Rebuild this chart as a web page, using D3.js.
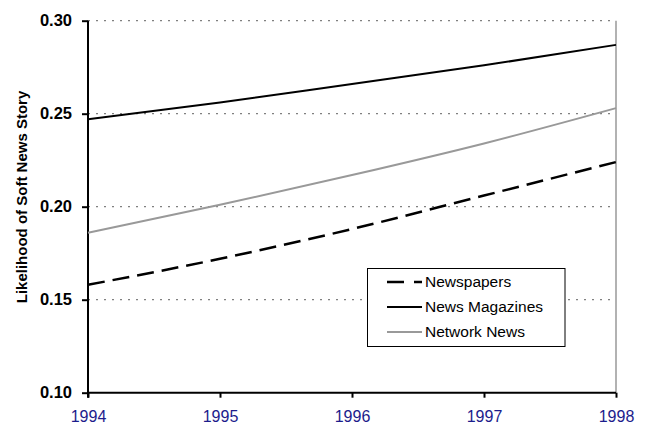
<!DOCTYPE html>
<html><head><meta charset="utf-8">
<script src="https://cdn.jsdelivr.net/npm/d3@7"></script>
<style>body{margin:0;background:#fff}svg{display:block}</style>
</head><body>
<svg id="c" width="646" height="426"></svg>
<script>
const years = [1994, 1995, 1996, 1997, 1998];
const newspapers = [0.158, 0.172, 0.188, 0.206, 0.224];
const newsMagazines = [0.247, 0.256, 0.266, 0.276, 0.287];
const networkNews = [0.186, 0.201, 0.217, 0.234, 0.253];
const yTicks = [0.10, 0.15, 0.20, 0.25, 0.30];
const seriesNames = ["Newspapers", "News Magazines", "Network News"];

const svg = d3.select("#c");
const L = 88, R = 616, T = 20.7, B = 392.7;
const x = d3.scaleLinear().domain([1994, 1998]).range([L, R]);
const y = d3.scaleLinear().domain([0.10, 0.30]).range([B, T]);
const font = "Liberation Sans, Arial, sans-serif";

// gridlines
svg.append("g").selectAll("line").data(yTicks.filter(d => d > 0.1)).join("line")
  .attr("x1", L).attr("x2", R).attr("y1", d => y(d)).attr("y2", d => y(d))
  .attr("stroke", "#808080").attr("stroke-width", 1.2).attr("stroke-dasharray", "2,6");
// right border
svg.append("line").attr("x1", R).attr("x2", R).attr("y1", T).attr("y2", B)
  .attr("stroke", "#999").attr("stroke-width", 1.5);

// y axis
const ya = svg.append("g").attr("transform", `translate(${L},0)`)
  .call(d3.axisLeft(y).tickValues(yTicks).tickFormat(d3.format(".2f")).tickSize(6).tickPadding(10));
ya.select(".domain").attr("stroke", "#000").attr("stroke-width", 2).attr("d", `M0,${T}V${B + 5}`);
ya.selectAll(".tick line").attr("stroke", "#000").attr("stroke-width", 2);
ya.selectAll("text").attr("font-family", font)
  .attr("font-size", 16.5).attr("font-weight", "bold").attr("fill", "#000");

// x axis
const xa = svg.append("g").attr("transform", `translate(0,${B})`)
  .call(d3.axisBottom(x).tickValues(years).tickFormat(d3.format("d")).tickSize(5).tickPadding(13));
xa.select(".domain").attr("stroke", "#000").attr("stroke-width", 2).attr("d", `M${L},0H${R}`);
xa.selectAll(".tick line").attr("stroke", "#000").attr("stroke-width", 2);
xa.selectAll("text").attr("font-family", font)
  .attr("font-size", 16).attr("fill", "#1c1c8c");

// axis title
svg.append("text").attr("transform", `translate(27,197) rotate(-90)`)
  .attr("text-anchor", "middle").attr("font-family", font)
  .attr("font-size", 15).attr("font-weight", "bold").text("Likelihood of Soft News Story");

const styles = [
  {data: newspapers, color: "#000", width: 2.5, dash: "17,8"},
  {data: newsMagazines, color: "#000", width: 2, dash: null},
  {data: networkNews, color: "#999", width: 2, dash: null}
];
const line = d3.line().x((d, i) => x(years[i])).y(d => y(d)).curve(d3.curveMonotoneX);
styles.forEach(s => {
  svg.append("path").datum(s.data).attr("d", line).attr("fill", "none")
    .attr("stroke", s.color).attr("stroke-width", s.width)
    .attr("stroke-dasharray", s.dash);
});

// legend
const lg = svg.append("g");
lg.append("rect").attr("x", 367.5).attr("y", 268.5).attr("width", 197.5).attr("height", 78)
  .attr("fill", "#fff").attr("stroke", "#000").attr("stroke-width", 1);
const ly = [282, 307, 332];
styles.forEach((s, i) => {
  lg.append("line").attr("x1", 387).attr("x2", 422).attr("y1", ly[i]).attr("y2", ly[i])
    .attr("stroke", s.color).attr("stroke-width", s.width).attr("stroke-dasharray", s.dash ? "17,10" : null);
  lg.append("text").attr("x", 425).attr("y", ly[i]).attr("dy", "0.35em")
    .attr("font-family", font).attr("font-size", 15.5)
    .text(seriesNames[i]);
});
</script>
</body></html>
